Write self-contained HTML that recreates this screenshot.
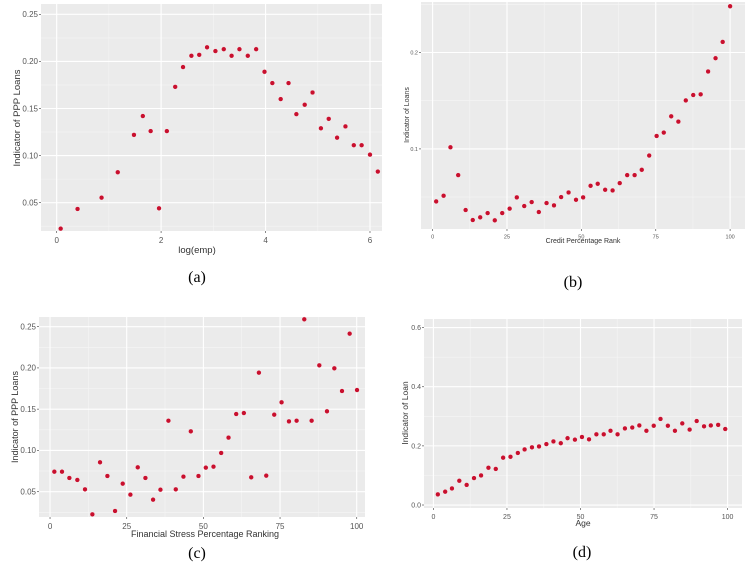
<!DOCTYPE html>
<html><head><meta charset="utf-8"><style>
body{margin:0;background:#fff;width:753px;height:564px;overflow:hidden}
svg text{font-family:"Liberation Sans",sans-serif}
</style></head><body>
<svg id="fig" width="753" height="564" xmlns="http://www.w3.org/2000/svg"></svg>
<script>
// Panel (a)
const aX = [0.077,0.40,0.86,1.17,1.48,1.65,1.80,1.96,2.11,2.27,2.42,2.58,2.73,2.88,3.04,3.20,3.35,3.50,3.66,3.82,3.98,4.13,4.29,4.44,4.59,4.75,4.90,5.06,5.21,5.37,5.53,5.69,5.84,6.00,6.15];
const aY = [0.0224,0.0433,0.0553,0.0823,0.122,0.142,0.126,0.044,0.126,0.173,0.194,0.206,0.207,0.215,0.211,0.213,0.206,0.213,0.206,0.213,0.189,0.177,0.160,0.177,0.144,0.154,0.167,0.129,0.139,0.119,0.131,0.111,0.111,0.101,0.083];
const aXTicks = [0,2,4,6];
const aYTicks = [0.05,0.10,0.15,0.20,0.25];
// Panel (b)
const bX = [1.2,3.7,6.0,8.6,11.1,13.5,16.0,18.5,20.9,23.4,25.9,28.3,30.8,33.3,35.7,38.3,40.8,43.2,45.7,48.2,50.6,53.1,55.5,58.0,60.5,62.9,65.4,67.9,70.3,72.8,75.3,77.7,80.2,82.6,85.1,87.6,90.1,92.6,95.1,97.5,100];
const bY = [0.0455,0.0514,0.1017,0.0728,0.0366,0.0262,0.029,0.0334,0.0259,0.0334,0.038,0.0497,0.0407,0.0448,0.0345,0.0438,0.0414,0.05,0.0548,0.0472,0.0497,0.0617,0.0638,0.0576,0.0569,0.0645,0.0728,0.0728,0.0783,0.0931,0.1134,0.1169,0.1338,0.1283,0.1503,0.1559,0.1566,0.1803,0.1941,0.211,0.248];
const bXTicks = [0,25,50,75,100];
const bYTicks = [0.1,0.2];
// Panel (c)
const cX = [1.4,3.9,6.3,8.9,11.4,13.8,16.3,18.7,21.2,23.7,26.2,28.6,31.1,33.6,36.0,38.6,41.0,43.5,45.9,48.4,50.8,53.3,55.8,58.2,60.7,63.2,65.6,68.1,70.5,73.1,75.5,77.9,80.4,82.9,85.3,87.8,90.3,92.7,95.2,97.7,100.1];
const cY = [0.0742,0.0742,0.0666,0.0642,0.0528,0.0225,0.0856,0.069,0.0266,0.0597,0.0464,0.0795,0.0666,0.0403,0.0524,0.136,0.0528,0.0682,0.1231,0.069,0.0791,0.0803,0.0969,0.1155,0.1441,0.1453,0.0674,0.1942,0.0694,0.1433,0.1583,0.1352,0.136,0.2589,0.136,0.2031,0.1474,0.1995,0.172,0.2415,0.1732];
const cXTicks = [0,25,50,75,100];
const cYTicks = [0.05,0.10,0.15,0.20,0.25];
// Panel (d)
const dX = [1.5,4.0,6.3,8.8,11.3,13.8,16.2,18.7,21.2,23.7,26.2,28.7,31.0,33.5,35.9,38.4,40.8,43.3,45.6,48.1,50.5,52.9,55.4,57.9,60.2,62.6,65.1,67.6,70.0,72.4,74.9,77.2,79.7,82.1,84.6,87.1,89.5,92.0,94.3,96.8,99.2];
const dY = [0.036,0.045,0.056,0.082,0.068,0.091,0.100,0.126,0.122,0.160,0.163,0.176,0.188,0.195,0.198,0.206,0.215,0.209,0.226,0.221,0.230,0.222,0.239,0.239,0.251,0.239,0.259,0.262,0.269,0.251,0.268,0.291,0.268,0.251,0.276,0.255,0.284,0.266,0.269,0.271,0.257];
const dXTicks = [0,25,50,75,100];
const dYTicks = [0.0,0.2,0.4,0.6];

const NS = "http://www.w3.org/2000/svg";
const svg = document.getElementById('fig');
function mk(tag, attrs, parent){const e=document.createElementNS(NS,tag);for(const k in attrs)e.setAttribute(k,attrs[k]);(parent||svg).appendChild(e);return e;}
function fmt(v,d){return v.toFixed(d);}

function panel(p){
  const g = mk('g',{});
  
  
  const sx = v => p.L + (v - p.xmin)/(p.xmax - p.xmin)*(p.R - p.L);
  const sy = v => p.B - (v - p.ymin)/(p.ymax - p.ymin)*(p.B - p.T);
  const bg = mk('rect',{x:p.L,y:p.T,width:p.R-p.L,height:p.B-p.T,fill:'#ebebeb'},g);
  
  
  const xt=p.xTicks, yt=p.yTicks;
  const xs=xt[1]-xt[0], ys=yt[1]-yt[0];
  for(let v=xt[0]-xs/2; v<=p.xmax; v+=xs){ if(v<p.xmin) continue; const x=sx(v); mk('line',{x1:x,x2:x,y1:p.T,y2:p.B,stroke:'#f5f5f5','stroke-width':0.6},g);}
  for(let v=yt[0]-ys/2; v<=p.ymax; v+=ys){ if(v<p.ymin) continue; const y=sy(v); mk('line',{x1:p.L,x2:p.R,y1:y,y2:y,stroke:'#f5f5f5','stroke-width':0.6},g);}
  xt.forEach(v=>{const x=sx(v);
    mk('line',{x1:x,x2:x,y1:p.T,y2:p.B,stroke:'#fff','stroke-width':1.1},g);
    mk('line',{x1:x,x2:x,y1:p.B,y2:p.B+2,stroke:'#555','stroke-width':0.7},g);
    const t=mk('text',{x:x,y:p.B+4+p.fs,'font-size':p.fs,fill:'#555','text-anchor':'middle'},g);
    t.textContent=String(v);
    
    
  });
  yt.forEach(v=>{const y=sy(v);
    mk('line',{x1:p.L,x2:p.R,y1:y,y2:y,stroke:'#fff','stroke-width':1.1},g);
    mk('line',{x1:p.L-2,x2:p.L,y1:y,y2:y,stroke:'#555','stroke-width':0.7},g);
    const t=mk('text',{x:p.L-3,y:y+p.fs*0.35,'font-size':p.fs,fill:'#555','text-anchor':'end'},g);
    t.textContent=fmt(v,p.yd);
    
    
  });
  p.xs.forEach((v,i)=>{
    const c=mk('circle',{cx:sx(v),cy:sy(p.ys[i]),r:2.4,fill:'#c8102e',stroke:'#fff','stroke-width':0.4},g);
    
    
  });
  const xl=mk('text',{x:p.xlx,y:p.xly,'font-size':p.tfs,fill:'#333','text-anchor':'middle'},g);
  xl.textContent=p.xlabel;
  
  
  const yl=mk('text',{x:0,y:0,'font-size':p.tfs,fill:'#333','text-anchor':'middle',transform:`translate(${p.ylx},${p.yly}) rotate(-90)`},g);
  yl.textContent=p.ylabel;
  
  
  const cap=mk('text',{x:p.cx,y:p.cy,'font-size':16,fill:'#000','text-anchor':'middle',style:'font-family:"Liberation Serif",serif'},g);
  cap.textContent='('+p.id+')';
  
  
}

panel({id:'a',xs:aX,ys:aY,xTicks:aXTicks,yTicks:aYTicks,L:41,R:382,T:4,B:231,xmin:-0.3,xmax:6.23,ymin:0.0199,ymax:0.261,fs:8,tfs:9.5,yd:2,
  xlabel:'log(emp)',xlx:197,xly:253,ylabel:'Indicator of PPP Loans',ylx:20,yly:118,cx:197,cy:282});
panel({id:'b',xs:bX,ys:bY,xTicks:bXTicks,yTicks:bYTicks,L:421,R:745,T:2,B:229,xmin:-3.9,xmax:105,ymin:0.0169,ymax:0.2524,fs:5.5,tfs:7,yd:1,
  xlabel:'Credit Percentage Rank',xlx:583,xly:243,ylabel:'Indicator of Loans',ylx:409,yly:115,cx:573,cy:287});
panel({id:'c',xs:cX,ys:cY,xTicks:cXTicks,yTicks:cYTicks,L:39,R:365,T:317,B:517,xmin:-3.6,xmax:102.7,ymin:0.0193,ymax:0.2617,fs:8,tfs:9,yd:2,
  xlabel:'Financial Stress Percentage Ranking',xlx:205,xly:537,ylabel:'Indicator of PPP Loans',ylx:18,yly:417,cx:197,cy:558});
panel({id:'d',xs:dX,ys:dY,xTicks:dXTicks,yTicks:dYTicks,L:424,R:742,T:319,B:508,xmin:-3.2,xmax:104.9,ymin:-0.0101,ymax:0.629,fs:7,tfs:8.5,yd:1,
  xlabel:'Age',xlx:583,xly:526,ylabel:'Indicator of Loan',ylx:408,yly:413,cx:582,cy:557});
</script>
</body></html>
